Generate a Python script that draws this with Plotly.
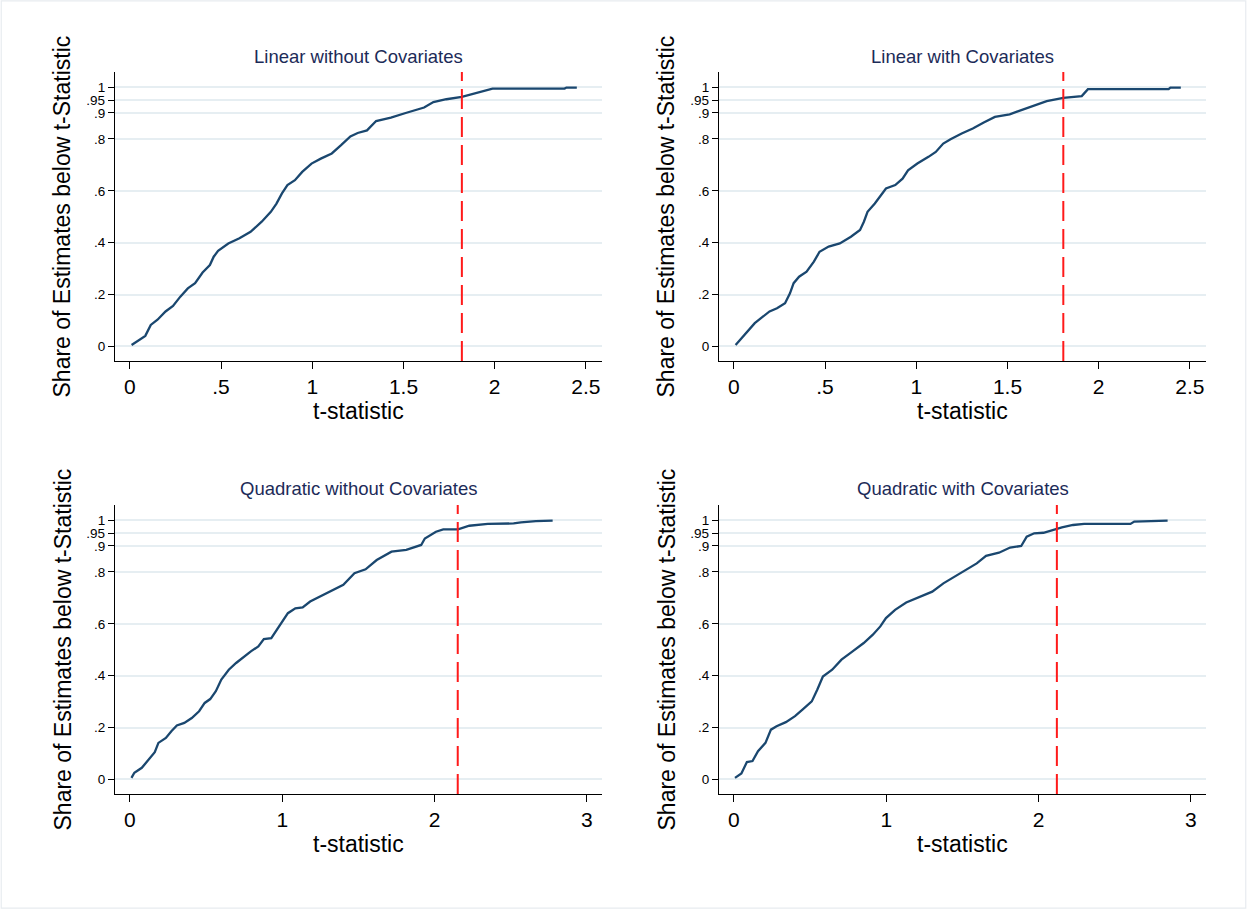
import plotly.graph_objects as go

# Empirical CDFs of t-statistics for four specifications (traced knots)
lin_nocov_t = [0.01, 0.085, 0.115, 0.152, 0.196, 0.237, 0.277, 0.318, 0.358, 0.399, 0.439, 0.46,
               0.484, 0.54, 0.601, 0.662, 0.723, 0.773, 0.804, 0.834, 0.864, 0.905, 0.945, 0.996,
               1.047, 1.107, 1.158, 1.209, 1.249, 1.3, 1.35, 1.431, 1.512, 1.613, 1.664, 1.735,
               1.82, 1.897, 1.957, 1.988, 2.383, 2.393, 2.45]
lin_nocov_s = [0.006, 0.041, 0.083, 0.103, 0.135, 0.156, 0.192, 0.224, 0.244, 0.285, 0.314, 0.346,
               0.369, 0.397, 0.417, 0.442, 0.481, 0.519, 0.551, 0.59, 0.622, 0.641, 0.673, 0.705,
               0.724, 0.744, 0.776, 0.81, 0.823, 0.833, 0.869, 0.882, 0.9, 0.921, 0.942, 0.953,
               0.962, 0.978, 0.99, 0.994, 0.994, 0.998, 0.998]

lin_cov_t = [0.01, 0.034, 0.075, 0.115, 0.156, 0.196, 0.237, 0.281, 0.308, 0.328, 0.358, 0.399,
             0.439, 0.47, 0.52, 0.581, 0.642, 0.692, 0.713, 0.733, 0.773, 0.804, 0.834, 0.885,
             0.925, 0.955, 1.006, 1.067, 1.107, 1.148, 1.188, 1.249, 1.31, 1.37, 1.431, 1.512,
             1.573, 1.654, 1.715, 1.806, 1.907, 1.941, 2.383, 2.393, 2.45]
lin_cov_s = [0.006, 0.026, 0.058, 0.09, 0.113, 0.135, 0.147, 0.167, 0.205, 0.244, 0.269, 0.288,
             0.327, 0.365, 0.385, 0.397, 0.423, 0.449, 0.481, 0.519, 0.551, 0.583, 0.609, 0.622,
             0.647, 0.679, 0.705, 0.731, 0.75, 0.782, 0.799, 0.821, 0.84, 0.863, 0.885, 0.895,
             0.91, 0.929, 0.946, 0.958, 0.965, 0.992, 0.992, 0.998, 0.998]

quad_nocov_t = [0.01, 0.029, 0.078, 0.126, 0.163, 0.187, 0.236, 0.272, 0.308, 0.357, 0.406, 0.454,
                0.491, 0.527, 0.564, 0.6, 0.649, 0.697, 0.746, 0.794, 0.843, 0.879, 0.928, 0.964,
                1.001, 1.037, 1.086, 1.134, 1.183, 1.256, 1.329, 1.401, 1.474, 1.547, 1.62, 1.717,
                1.814, 1.912, 1.936, 2.009, 2.057, 2.154, 2.228, 2.349, 2.519, 2.567, 2.665, 2.775]
quad_nocov_s = [0.006, 0.026, 0.045, 0.077, 0.105, 0.141, 0.16, 0.186, 0.208, 0.218, 0.237, 0.263,
                0.295, 0.31, 0.34, 0.385, 0.423, 0.449, 0.472, 0.494, 0.513, 0.541, 0.545, 0.577,
                0.609, 0.641, 0.66, 0.663, 0.686, 0.708, 0.729, 0.75, 0.795, 0.81, 0.846, 0.878,
                0.885, 0.904, 0.929, 0.955, 0.964, 0.964, 0.978, 0.985, 0.987, 0.991, 0.996, 0.998]

quad_cov_t = [0.007, 0.049, 0.085, 0.122, 0.158, 0.207, 0.243, 0.28, 0.341, 0.401, 0.45, 0.511,
              0.547, 0.584, 0.645, 0.706, 0.779, 0.852, 0.912, 0.961, 0.998, 1.058, 1.131, 1.204,
              1.302, 1.375, 1.448, 1.521, 1.594, 1.655, 1.74, 1.813, 1.886, 1.922, 1.971, 2.032,
              2.117, 2.153, 2.226, 2.299, 2.603, 2.628, 2.847]
quad_cov_s = [0.006, 0.023, 0.067, 0.071, 0.109, 0.141, 0.192, 0.205, 0.221, 0.244, 0.269, 0.301,
              0.346, 0.397, 0.423, 0.462, 0.494, 0.526, 0.558, 0.59, 0.622, 0.654, 0.682, 0.699,
              0.724, 0.756, 0.782, 0.808, 0.833, 0.862, 0.874, 0.894, 0.9, 0.936, 0.949, 0.951,
              0.965, 0.972, 0.981, 0.985, 0.985, 0.994, 0.998]

titles = ["Linear without Covariates", "Linear with Covariates",
          "Quadratic without Covariates", "Quadratic with Covariates"]
critical_t = [1.82, 1.806, 2.152, 2.12]

y_ticks = [0, 0.2, 0.4, 0.6, 0.8, 0.9, 0.95, 1]
y_tick_text = ["0", ".2", ".4", ".6", ".8", ".9", ".95", "1"]
x_ticks_top = [0, 0.5, 1, 1.5, 2, 2.5]
x_tick_text_top = ["0", ".5", "1", "1.5", "2", "2.5"]
x_ticks_bottom = [0, 1, 2, 3]
x_tick_text_bottom = ["0", "1", "2", "3"]

series_t = [lin_nocov_t, lin_cov_t, quad_nocov_t, quad_cov_t]
series_s = [lin_nocov_s, lin_cov_s, quad_nocov_s, quad_cov_s]

W, H = 1247, 909
FONT = "Liberation Sans, Arial, Helvetica, sans-serif"
LINE = "#1a476f"
GRID = "#e6eef2"
TITLE_C = "#1c2b58"

# panel geometry in pixels: (left, right, top, bottom)
panels = [(115, 602, 72, 361), (719, 1206, 72, 361),
          (115, 602, 505, 794), (719, 1206, 505, 794)]
x_ranges = [[-0.081, 2.588], [-0.081, 2.588], [-0.098, 3.099], [-0.098, 3.099]]
y_range = [-0.056, 1.058]

fig = go.Figure()
layout = dict(
    width=W, height=H, margin=dict(l=0, r=0, t=0, b=0),
    paper_bgcolor="white", plot_bgcolor="white", showlegend=False,
    font=dict(family=FONT, color="black"),
)
annotations = []
shapes = []

for i in range(4):
    l, r, t, b = panels[i]
    xa = "xaxis" if i == 0 else f"xaxis{i+1}"
    ya = "yaxis" if i == 0 else f"yaxis{i+1}"
    xr = "x" if i == 0 else f"x{i+1}"
    yr = "y" if i == 0 else f"y{i+1}"
    top_row = i < 2
    layout[xa] = dict(
        domain=[l / W, r / W], anchor=yr, range=x_ranges[i],
        tickmode="array",
        tickvals=x_ticks_top if top_row else x_ticks_bottom,
        ticktext=x_tick_text_top if top_row else x_tick_text_bottom,
        ticks="outside", ticklen=7, tickwidth=1.3, tickcolor="black",
        showline=True, linecolor="black", linewidth=1.3,
        showgrid=False, zeroline=False,
        tickfont=dict(size=21, family=FONT, color="black"),
    )
    layout[ya] = dict(
        domain=[1 - b / H, 1 - t / H], anchor=xr, range=y_range,
        tickmode="array", tickvals=y_ticks, ticktext=y_tick_text,
        ticks="outside", ticklen=6, tickwidth=1.3, tickcolor="black",
        showline=True, linecolor="black", linewidth=1.3,
        showgrid=True, gridcolor=GRID, gridwidth=1.5, zeroline=False,
        tickfont=dict(size=13.5, family=FONT, color="black"),
    )
    fig.add_trace(go.Scatter(
        x=series_t[i], y=series_s[i], mode="lines", xaxis=xr, yaxis=yr,
        line=dict(color=LINE, width=2.3), hoverinfo="skip",
    ))
    shapes.append(dict(
        type="line", xref=xr, yref=f"{yr} domain",
        x0=critical_t[i], x1=critical_t[i], y0=0, y1=1,
        line=dict(color="#ff1a1a", width=2, dash="20px,8px"),
    ))
    cx = (l + r) / 2
    cy = (t + b) / 2
    annotations.append(dict(
        text=titles[i], xref="paper", yref="paper", x=cx / W, y=1 - (t - 16) / H,
        showarrow=False, xanchor="center", yanchor="middle",
        font=dict(size=18.5, family=FONT, color=TITLE_C),
    ))
    annotations.append(dict(
        text="t-statistic", xref="paper", yref="paper", x=cx / W, y=1 - (b + 50) / H,
        showarrow=False, xanchor="center", yanchor="middle",
        font=dict(size=23, family=FONT, color="black"),
    ))
    annotations.append(dict(
        text="Share of Estimates below t-Statistic", xref="paper", yref="paper",
        x=(l - 53) / W, y=1 - cy / H, textangle=-90,
        showarrow=False, xanchor="center", yanchor="middle",
        font=dict(size=23, family=FONT, color="black"),
    ))

# thin frame around the whole graph
shapes.append(dict(type="rect", xref="paper", yref="paper", x0=0.001, x1=0.999,
                   y0=0.001, y1=0.999, line=dict(color="#e8ecf0", width=1.2)))

layout["annotations"] = annotations
layout["shapes"] = shapes
fig.update_layout(**layout)
fig.write_html("out.html")
